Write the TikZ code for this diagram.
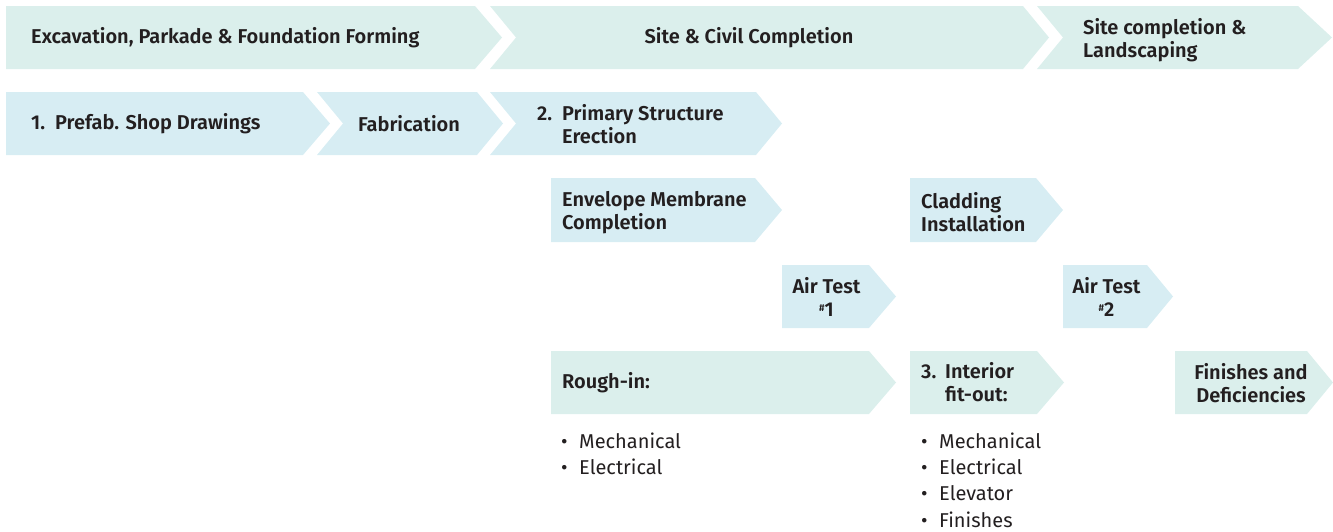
\documentclass[tikz,border=0pt]{standalone}
\usepackage{fontspec}
\setmainfont{Fira Sans}[BoldFont={Fira Sans SemiBold}]
\usepackage{array}
\definecolor{mint}{HTML}{DBEFEC}
\definecolor{sky}{HTML}{D7EDF3}
\definecolor{ink}{HTML}{231F20}

% chevron: #1 fill, #2 left x, #3 top y, #4 body right x, #5 bottom y, #6 notch depth, #7 tip depth
\newcommand\chevron[7]{%
  \fill[#1] (#2,#3) -- (#4,#3) -- (#4+#7,{(#3+#5)/2}) -- (#4,#5) -- (#2,#5)
    -- (#2+#6,{(#3+#5)/2}) -- cycle;}
\newcommand\bul{\makebox[18pt][l]{\textbullet}}
\newcommand\testno[1]{{\fontsize{10}{10}\selectfont\raisebox{5pt}{\#}}#1}

\begin{document}
\begin{tikzpicture}[x=1pt,y=-1pt,
  lbl/.style={text=ink,font=\fontsize{20}{23}\selectfont\bfseries,inner sep=0pt,align=left},
  clbl/.style={lbl,align=center},
  itemlist/.style={text=ink,font=\fontsize{20}{26.3}\selectfont,inner sep=0pt,anchor=north west}]
\useasboundingbox (0,0) rectangle (1333,531);

% phase band
\chevron{mint}{6}{6}{475}{69}{0}{27}
\chevron{mint}{490}{6}{1023}{69}{26}{26}
\chevron{mint}{1037}{6}{1298}{69}{26}{34}

% prefabrication sequence
\chevron{sky}{6}{92}{303}{155}{0}{27}
\chevron{sky}{317}{92}{477}{155}{26}{26}
\chevron{sky}{490}{92}{756}{155}{26}{26}

% envelope and air tests
\chevron{sky}{551}{178}{755}{242}{0}{27}
\chevron{sky}{910}{178}{1036}{242}{0}{27}
\chevron{sky}{782}{265}{869}{328}{0}{27}
\chevron{sky}{1063}{265}{1147}{328}{0}{26}

% interior works
\chevron{mint}{551}{351}{869}{414}{0}{27}
\chevron{mint}{910}{351}{1037}{414}{0}{27}
\chevron{mint}{1175}{351}{1307}{414}{0}{26}

\node[lbl,anchor=west] (exc) at (31,38) {Excavation, Parkade \& Foundation Forming};
\node[clbl] (civil) at (749,38) {Site \& Civil Completion};
\node[lbl,anchor=west] (land) at (1083,40.5) {Site completion \&\\Landscaping};

\node[lbl,anchor=west] (shop) at (31,124) {\makebox[24pt][l]{1.}Prefab. Shop Drawings};
\node[clbl] (fab) at (409,124) {Fabrication};
\node[lbl,anchor=west] (prim) at (537,127.5)
  {\begin{tabular}{@{}p{25pt}@{}l@{}}2.&Primary Structure\\&Erection\end{tabular}};

\node[lbl,anchor=west] (env) at (562,212.5) {Envelope Membrane\\Completion};
\node[lbl,anchor=west] (clad) at (921,212) {Cladding\\Installation};
\node[clbl] (air1) at (826.5,297) {Air Test\\\testno{1}};
\node[clbl] (air2) at (1106.5,297) {Air Test\\\testno{2}};

\node[lbl,anchor=west] (rough) at (562,383) {Rough-in:};
\node[lbl,anchor=west] (fit) at (921,385.5)
  {\begin{tabular}{@{}p{24pt}@{}l@{}}3.&Interior\\&fit-out:\end{tabular}};
\node[clbl] (fin) at (1251,383.5) {Finishes and\\Deficiencies};

\node[itemlist] (roughlist) at (561,429.5)
  {\begin{tabular}{@{}l@{}l@{}}\bul&Mechanical\\\bul&Electrical\end{tabular}};
\node[itemlist] (fitlist) at (921,429.5)
  {\begin{tabular}{@{}l@{}l@{}}\bul&Mechanical\\\bul&Electrical\\\bul&Elevator\\\bul&Finishes\end{tabular}};
\end{tikzpicture}
\end{document}
